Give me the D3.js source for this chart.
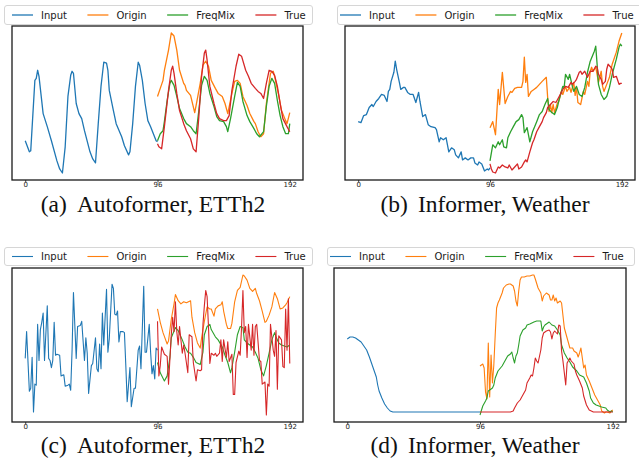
<!DOCTYPE html>
<html>
<head>
<meta charset="utf-8">
<script src="https://cdn.jsdelivr.net/npm/d3@7"></script>
<style>
  body { margin: 0; background: #fff; }
  svg { display: block; }
</style>
</head>
<body>
<svg id="chart" width="639" height="459"></svg>
<script>
// Series names and colours (matplotlib tab10)
let seriesNames = ['Input', 'Origin', 'FreqMix', 'True']
let seriesColors = ['#1f77b4', '#ff7f0e', '#2ca02c', '#d62728']
let xTicks = [0, 96, 192]
let captionLabels = ['(a)', '(b)', '(c)', '(d)']
let captionTexts = ['Autoformer, ETTh2', 'Informer, Weather', 'Autoformer, ETTh2', 'Informer, Weather']

// (a) Autoformer, ETTh2 -- [step, value]
let aInput = [[0,39],[3,28],[4,29],[7,99],[8,101],[9,109],[10,103],[13,66],[16,53],[19,39],[23,19],[25,11],[27,7],[29,33],[31,83],[33,104],[34,108],[35,106],[37,76],[39,66],[41,61],[43,49],[47,28],[49,21],[51,17],[53,56],[55,93],[57,117],[59,116],[60,109],[61,89],[64,69],[66,56],[70,43],[72,34],[75,25],[76,28],[78,56],[80,93],[82,117],[83,114],[85,99],[87,76],[89,59],[91,53],[93,46],[95,39],[96,38]]
let aOrigin = [[96,83],[98,91],[100,99],[101,109],[104,129],[106,146],[108,143],[110,129],[112,109],[115,96],[116,94],[117,89],[120,84],[123,67],[124,74],[127,96],[129,114],[131,118],[133,113],[135,99],[138,91],[140,86],[143,83],[145,76],[147,66],[150,86],[152,98],[154,99],[156,96],[158,83],[161,74],[163,66],[166,58],[167,56],[169,48],[171,43],[173,46],[175,76],[178,106],[180,108],[181,103],[184,84],[186,69],[189,59],[190,56],[192,67]]
let aFreqMix = [[96,39],[98,46],[100,49],[101,58],[103,79],[105,96],[106,99],[108,94],[110,83],[112,71],[115,61],[117,56],[120,53],[122,49],[124,46],[126,69],[128,94],[130,103],[132,99],[134,86],[137,73],[139,63],[141,59],[144,58],[146,53],[147,48],[149,61],[152,83],[154,97],[156,93],[158,78],[161,64],[163,58],[166,51],[168,46],[170,43],[173,48],[175,73],[177,93],[179,101],[181,96],[183,79],[185,64],[187,53],[189,46],[191,46],[192,56]]
let aTrue = [[96,36],[97,33],[99,31],[101,53],[104,89],[106,109],[107,113],[108,106],[110,86],[112,69],[115,56],[117,49],[120,41],[122,31],[124,28],[126,63],[128,103],[130,126],[131,129],[132,119],[134,93],[137,76],[139,66],[141,61],[144,59],[146,59],[148,64],[150,89],[153,113],[155,125],[157,123],[160,109],[162,103],[164,96],[167,91],[169,88],[171,86],[173,81],[175,96],[177,109],[179,108],[181,104],[183,93],[185,76],[187,61],[190,53],[192,48]]

// (b) Informer, Weather
let bInput = [[0,59],[2,58],[4,65],[6,66],[8,73],[10,76],[11,74],[13,79],[15,82],[17,86],[19,85],[21,79],[22,89],[23,91],[24,99],[26,108],[27,119],[28,111],[30,98],[31,91],[33,93],[34,93],[36,88],[38,86],[40,86],[42,78],[44,88],[45,79],[47,64],[49,66],[51,56],[53,54],[56,53],[57,51],[59,39],[60,43],[62,41],[64,43],[66,29],[68,33],[70,31],[71,26],[73,23],[75,29],[76,21],[78,23],[80,21],[82,23],[84,23],[85,18],[87,16],[88,19],[90,17],[92,10],[94,12],[95,11],[96,13]]
let bOrigin = [[96,53],[97,56],[98,59],[100,46],[102,91],[103,76],[105,108],[107,77],[109,84],[111,89],[112,88],[114,92],[116,93],[119,93],[120,99],[121,123],[122,98],[123,106],[124,84],[126,89],[128,91],[130,93],[132,96],[134,99],[137,103],[138,83],[139,69],[140,76],[141,68],[142,76],[143,68],[145,77],[146,79],[148,89],[149,86],[151,94],[152,89],[154,93],[155,88],[157,98],[158,85],[159,93],[160,78],[162,76],[164,89],[165,86],[167,99],[168,94],[169,109],[170,113],[171,109],[173,113],[174,106],[175,98],[177,109],[178,94],[179,89],[181,96],[183,103],[185,116],[188,128],[190,139],[192,147]]
let bFreqMix = [[96,20],[97,28],[98,36],[100,33],[102,39],[103,36],[105,41],[106,34],[108,33],[109,43],[111,49],[113,54],[115,59],[117,61],[119,66],[120,63],[121,48],[123,53],[125,39],[127,49],[130,59],[132,66],[134,69],[136,76],[138,82],[139,71],[141,68],[143,66],[145,73],[146,79],[149,94],[150,93],[151,106],[153,101],[154,106],[156,94],[157,89],[159,94],[161,86],[163,84],[165,93],[167,108],[169,119],[172,129],[173,134],[174,116],[175,96],[177,86],[179,81],[181,84],[183,93],[185,106],[188,121],[190,133],[191,136],[192,134]]
let bTrue = [[96,17],[97,12],[98,9],[100,8],[102,14],[103,13],[105,16],[107,14],[109,13],[110,16],[112,11],[114,14],[116,17],[117,12],[119,14],[121,19],[122,21],[123,19],[125,29],[127,38],[128,41],[130,49],[132,54],[134,59],[135,63],[137,68],[138,73],[140,76],[142,79],[144,78],[146,83],[148,88],[149,91],[151,94],[153,93],[155,98],[156,96],[158,99],[159,101],[161,108],[162,109],[163,106],[165,109],[167,103],[168,106],[169,109],[171,109],[173,114],[174,113],[175,106],[177,101],[178,96],[180,99],[181,111],[182,116],[184,113],[185,111],[186,103],[188,104],[190,96],[191,97],[192,97]]

// (c) Autoformer, ETTh2
let cInput = [[0,64],[1,90],[3,32],[4,35],[5,65],[6,12],[7,39],[8,38],[9,97],[10,62],[11,92],[12,99],[13,108],[14,62],[16,115],[17,64],[18,62],[19,55],[20,62],[21,99],[22,67],[23,68],[25,67],[26,47],[28,48],[29,37],[31,38],[32,39],[33,33],[34,72],[35,128],[37,64],[38,95],[40,96],[41,100],[43,62],[44,84],[45,69],[46,30],[48,57],[49,59],[51,84],[52,54],[53,51],[54,78],[55,54],[56,108],[57,77],[59,131],[60,70],[61,83],[63,136],[64,132],[65,107],[66,106],[67,110],[68,80],[69,90],[71,90],[72,89],[73,57],[74,22],[76,55],[77,17],[79,35],[80,35],[82,72],[83,76],[84,54],[86,134],[87,70],[88,70],[90,97],[91,70],[92,49],[93,57],[94,44],[95,74],[96,72]]
let cOrigin = [[96,112],[98,99],[100,89],[103,78],[104,81],[106,102],[108,117],[109,126],[111,120],[113,117],[115,119],[117,118],[120,120],[121,104],[123,89],[125,79],[127,74],[128,84],[130,100],[132,114],[134,112],[135,112],[137,105],[138,112],[140,115],[142,116],[143,119],[144,110],[146,97],[147,93],[149,93],[150,98],[152,119],[154,130],[156,133],[158,145],[159,144],[161,140],[163,132],[165,129],[167,132],[168,127],[170,120],[172,110],[174,99],[175,100],[177,106],[179,114],[181,128],[183,122],[185,112],[187,113],[189,116],[190,118],[192,124]]
let cFreqMix = [[96,60],[98,50],[101,42],[103,47],[105,65],[106,84],[109,94],[111,91],[114,82],[116,75],[118,70],[120,69],[122,65],[124,60],[127,58],[129,70],[130,87],[132,95],[134,97],[135,92],[138,85],[140,82],[143,75],[145,67],[147,60],[149,50],[150,55],[152,70],[154,87],[156,95],[158,94],[159,82],[161,79],[163,77],[165,75],[167,70],[169,64],[171,53],[173,47],[175,57],[177,69],[179,82],[181,89],[182,85],[184,79],[186,77],[188,76],[190,75],[192,77]]
let cTrue = [[96,100],[97,47],[98,57],[99,75],[101,68],[103,66],[104,39],[106,87],[107,104],[108,90],[109,119],[110,90],[111,77],[112,95],[114,69],[115,77],[116,69],[118,50],[119,87],[121,85],[122,60],[124,42],[125,53],[127,52],[128,53],[129,97],[130,115],[131,130],[132,124],[133,95],[134,59],[135,69],[137,67],[138,69],[139,66],[141,69],[142,82],[143,61],[144,82],[146,65],[147,80],[148,61],[150,68],[151,29],[152,29],[153,60],[155,71],[156,67],[157,94],[158,130],[159,89],[160,95],[161,65],[162,97],[164,72],[165,97],[166,67],[167,95],[168,97],[170,62],[171,61],[172,39],[174,41],[175,9],[176,39],[177,37],[178,97],[180,72],[181,66],[182,91],[183,34],[184,86],[186,82],[187,56],[188,55],[189,112],[190,72],[191,122],[192,59]]

// (d) Informer, Weather
let dInput = [[0,83],[2,85],[4,85],[6,84],[8,82],[10,80],[12,76],[14,72],[16,65],[18,57],[20,49],[21,45],[22,37],[23,31],[25,24],[27,18],[29,14],[31,11],[33,10],[96,10]]
let dOrigin = [[96,56],[98,58],[99,54],[100,30],[101,23],[102,79],[103,25],[104,67],[105,39],[106,57],[107,87],[108,114],[109,119],[110,122],[112,129],[113,134],[115,137],[117,138],[118,138],[120,136],[121,131],[122,121],[123,116],[124,131],[125,142],[126,145],[128,145],[130,146],[132,146],[134,147],[135,147],[136,143],[138,134],[140,129],[141,121],[142,126],[144,129],[146,127],[147,122],[148,122],[149,127],[150,121],[151,124],[152,119],[154,121],[155,119],[157,94],[158,89],[159,84],[160,79],[161,74],[163,74],[164,71],[166,69],[167,65],[168,69],[169,74],[170,64],[171,54],[172,57],[173,47],[175,41],[177,34],[179,27],[181,22],[183,17],[184,11],[186,9],[187,10],[188,10],[190,9],[191,11],[192,12]]
let dFreqMix = [[96,7],[98,16],[100,21],[101,24],[102,31],[103,32],[105,34],[106,37],[107,44],[109,51],[112,56],[114,61],[116,66],[118,68],[119,70],[120,64],[121,59],[122,66],[123,69],[124,77],[125,86],[127,92],[129,94],[130,97],[132,98],[135,100],[137,101],[139,101],[140,101],[141,91],[142,95],[143,97],[146,100],[148,97],[150,96],[152,92],[154,87],[155,77],[157,69],[159,64],[161,60],[163,55],[166,51],[168,47],[171,45],[172,42],[173,39],[175,31],[176,24],[178,19],[180,17],[182,16],[184,15],[187,14],[188,12],[190,10],[191,11],[192,10]]
let dTrue = [[96,10],[118,10],[120,11],[121,14],[123,19],[125,22],[127,27],[129,32],[130,39],[132,44],[133,47],[134,46],[135,54],[136,64],[137,61],[138,59],[140,72],[141,84],[142,89],[144,91],[146,92],[147,90],[148,83],[149,89],[150,91],[152,88],[153,97],[154,96],[155,71],[156,61],[158,37],[159,59],[161,64],[162,61],[164,58],[165,51],[166,47],[168,41],[170,34],[171,26],[173,17],[175,12],[178,10],[192,10]]

// Panel layout
let panels = [
  {series: [aInput, aOrigin, aFreqMix, aTrue], frame: {l: 12, r: 303, t: 26, b: 180},
   legend: {x: 4, r: 312, t: 5, b: 24, inset: 8}, caption: {cx: 153, y: 211.5}, lw: 1.3},
  {series: [bInput, bOrigin, bFreqMix, bTrue], frame: {l: 345, r: 635, t: 26, b: 180},
   legend: {x: 337, r: 662, t: 5, b: 24, inset: 3}, caption: {cx: 485, y: 211.5}, lw: 1.3},
  {series: [cInput, cOrigin, cFreqMix, cTrue], frame: {l: 12, r: 303, t: 268, b: 422},
   legend: {x: 4, r: 312, t: 247, b: 265, inset: 8}, caption: {cx: 153, y: 452.5}, lw: 1.1},
  {series: [dInput, dOrigin, dFreqMix, dTrue], frame: {l: 334, r: 626, t: 268, b: 422},
   legend: {x: 327, r: 634, t: 247, b: 265, inset: 3}, caption: {cx: 475, y: 452.5}, lw: 1.1},
]

let svg = d3.select('#chart')

panels.forEach(function(p, pi) {
  let f = p.frame
  let g = svg.append('g').attr('class', 'panel')

  // x: matplotlib-like 5% margins around [0, 192]
  let xPad = (192 - 0) * 0.05
  let x = d3.scaleLinear().domain([0 - xPad, 192 + xPad]).range([f.l, f.r])

  let allVals = p.series.flatMap(s => s.map(d => d[1]))
  let ext = d3.extent(allVals)
  let yPad = (ext[1] - ext[0]) * 0.05
  let y = d3.scaleLinear().domain([ext[0] - yPad, ext[1] + yPad]).range([f.b, f.t])

  let line = d3.line().x(d => x(d[0])).y(d => y(d[1]))

  p.series.forEach(function(s, si) {
    g.append('path')
      .datum(s)
      .attr('d', line)
      .attr('fill', 'none')
      .attr('stroke', seriesColors[si])
      .attr('stroke-width', p.lw)
      .attr('stroke-linejoin', 'round')
  })

  // frame
  g.append('rect')
    .attr('x', f.l).attr('y', f.t)
    .attr('width', f.r - f.l).attr('height', f.b - f.t)
    .attr('fill', 'none')
    .attr('stroke', '#1a1a1a')
    .attr('stroke-width', 1.3)

  // x axis ticks
  let axis = d3.axisBottom(x)
    .tickValues(xTicks)
    .tickSize(2.5)
    .tickPadding(0)
    .tickSizeOuter(0)
  let ax = g.append('g')
    .attr('transform', `translate(0, ${f.b})`)
    .call(axis)
  ax.select('.domain').remove()
  ax.selectAll('line').attr('stroke', '#1a1a1a').attr('stroke-width', 0.8)
  ax.selectAll('text')
    .attr('font-family', 'DejaVu Sans')
    .attr('font-size', 7)
    .attr('fill', '#1a1a1a')

  // legend
  let L = p.legend
  let lg = g.append('g').attr('class', 'legend')
  lg.append('rect')
    .attr('x', L.x + 0.5).attr('y', L.t + 0.5)
    .attr('width', L.r - L.x).attr('height', L.b - L.t)
    .attr('rx', 2.5)
    .attr('fill', 'rgba(255,255,255,0.8)')
    .attr('stroke', '#d6d6d6')
    .attr('stroke-width', 1)
  let cy = (L.t + L.b) / 2 + 0.5
  let cx = L.x + L.inset
  seriesNames.forEach(function(name, si) {
    lg.append('line')
      .attr('x1', cx).attr('x2', cx + 21)
      .attr('y1', cy).attr('y2', cy)
      .attr('stroke', seriesColors[si])
      .attr('stroke-width', p.lw)
    let t = lg.append('text')
      .attr('x', cx + 29)
      .attr('y', cy + 3.6)
      .attr('font-family', 'DejaVu Sans')
      .attr('font-size', 10)
      .attr('fill', '#1a1a1a')
      .text(name)
    cx += 29 + t.node().getComputedTextLength() + 20.5
  })

  // caption
  let cap = g.append('text')
    .attr('x', p.caption.cx)
    .attr('y', p.caption.y)
    .attr('text-anchor', 'middle')
    .attr('font-family', 'Liberation Serif')
    .attr('font-size', 23.5)
    .attr('fill', '#111')
  cap.append('tspan').text(captionLabels[pi])
  cap.append('tspan').attr('dx', 10).text(captionTexts[pi])
})
</script>
</body>
</html>
